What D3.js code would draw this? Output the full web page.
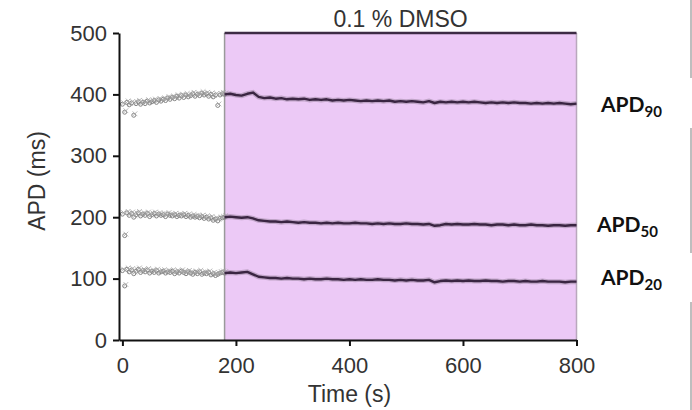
<!DOCTYPE html>
<html>
<head>
<meta charset="utf-8">
<script src="https://cdn.jsdelivr.net/npm/d3@7"></script>
<style>
  html, body { margin: 0; padding: 0; background: #ffffff; }
  svg { display: block; }
  .axis text { font-family: Arial, "Liberation Sans", sans-serif; font-size: 22px; fill: #333; }
  .axis path, .axis line { stroke: #111; stroke-width: 2; }
</style>
</head>
<body>
<svg id="chart" width="692" height="410"></svg>
<script>
// Time axis settings
const xTicks = [0, 200, 400, 600, 800];
const yTicks = [0, 100, 200, 300, 400, 500];
const dmsoStart = 180;
const dmsoEnd = 800;

// Baseline recording (scatter), sampled every 4 s from 0 to 180 s
const preTime = d3.range(0, 181, 4);
const apd90Pre = [384, 371, 387, 383, 386, 366, 385, 388, 384, 387, 385, 389, 386, 388, 390, 387,
  391, 389, 392, 390, 394, 392, 395, 393, 397, 394, 398, 395, 399, 396, 398, 401, 397, 400, 398,
  402, 399, 401, 397, 400, 396, 399, 382, 399, 401, 400];
const apd50Pre = [205, 170, 207, 203, 206, 200, 204, 207, 202, 205, 203, 206, 201, 204, 206, 202,
  205, 203, 204, 201, 205, 203, 202, 204, 201, 203, 202, 204, 201, 203, 200, 202, 200, 201, 199,
  201, 198, 200, 197, 199, 195, 197, 194, 198, 199, 200];
const apd20Pre = [113, 88, 115, 111, 114, 108, 112, 115, 110, 113, 111, 114, 109, 112, 110, 113,
  109, 111, 112, 109, 111, 110, 112, 108, 111, 109, 112, 110, 108, 111, 109, 107, 110, 108, 111,
  107, 109, 108, 110, 106, 108, 105, 107, 109, 110, 109];

// Recording under 0.1 % DMSO, sampled every 10 s from 180 to 800 s
const postTime = d3.range(180, 801, 10);
const apd90Post = [400, 401, 399, 398, 401, 403, 396, 394, 395, 393, 394, 392, 393, 392, 393, 391,
  392, 391, 392, 390, 391, 390, 391, 390, 389, 390, 389, 390, 389, 390, 388, 389, 388, 389, 388,
  387, 389, 386, 388, 387, 388, 387, 388, 387, 388, 387, 386, 387, 386, 387, 386, 387, 386, 386,
  385, 386, 385, 386, 385, 386, 385, 384, 385];
const apd50Post = [200, 201, 200, 199, 200, 198, 195, 194, 193, 193, 192, 193, 192, 191, 192, 191,
  191, 190, 191, 190, 191, 190, 190, 191, 190, 190, 189, 190, 189, 190, 189, 189, 190, 189, 189,
  188, 189, 186, 187, 189, 188, 189, 188, 188, 189, 188, 188, 187, 188, 188, 187, 188, 187, 187,
  188, 187, 187, 186, 187, 187, 186, 187, 187];
const apd20Post = [109, 110, 109, 110, 111, 107, 103, 102, 101, 101, 100, 101, 100, 100, 99, 100,
  99, 99, 100, 99, 99, 98, 99, 98, 99, 98, 98, 99, 98, 98, 97, 98, 97, 98, 97, 97, 98, 94, 96, 97,
  96, 97, 96, 97, 96, 96, 97, 96, 96, 95, 96, 96, 95, 96, 95, 95, 96, 95, 95, 95, 94, 95, 95];

const seriesNames = ["APD", "APD", "APD"];
const seriesSubs = ["90", "50", "20"];
const preSeries = [apd90Pre, apd50Pre, apd20Pre];
const postSeries = [apd90Post, apd50Post, apd20Post];

const svg = d3.select("#chart");

const x = d3.scaleLinear().domain([-6, 800]).range([119, 576.5]);
const y = d3.scaleLinear().domain([0, 500]).range([340, 33]);

// Treatment window
svg.append("rect")
  .attr("x", x(dmsoStart)).attr("y", y(500))
  .attr("width", x(dmsoEnd) - x(dmsoStart)).attr("height", y(0) - y(500))
  .attr("fill", "#ecc9f6");
svg.append("line")
  .attr("x1", x(dmsoStart)).attr("x2", x(dmsoStart))
  .attr("y1", y(500)).attr("y2", y(0))
  .attr("stroke", "#9a9a9a").attr("stroke-width", 1.5);
svg.append("line")
  .attr("x1", x(dmsoEnd)).attr("x2", x(dmsoEnd))
  .attr("y1", y(500)).attr("y2", y(0))
  .attr("stroke", "#b9a8bd").attr("stroke-width", 1.5);
svg.append("line")
  .attr("x1", x(dmsoStart)).attr("x2", x(dmsoEnd))
  .attr("y1", y(500)).attr("y2", y(500))
  .attr("stroke", "#3d2b45").attr("stroke-width", 2.5);

svg.append("text")
  .attr("x", (x(dmsoStart) + x(dmsoEnd)) / 2)
  .attr("y", 27)
  .attr("text-anchor", "middle")
  .style("font-family", "Arial, 'Liberation Sans', sans-serif")
  .style("font-size", "23px")
  .style("fill", "#333")
  .text("0.1 % DMSO");

// Baseline scatter: overlapping open markers and small crosses
const cross = d3.symbol().type(d3.symbolTimes).size(16);
preSeries.forEach(vals => {
  const g = svg.append("g");
  g.selectAll("circle")
    .data(vals)
    .join("circle")
    .attr("cx", (d, i) => x(preTime[i]))
    .attr("cy", d => y(d))
    .attr("r", 2)
    .attr("fill", "none")
    .attr("stroke", "#858585")
    .attr("stroke-width", 1);
  g.selectAll("path")
    .data(vals)
    .join("path")
    .attr("d", cross)
    .attr("transform", (d, i) => `translate(${x(preTime[i]) + 1.2},${y(d) - 1.5})`)
    .attr("fill", "none")
    .attr("stroke", "#a5a5a5")
    .attr("stroke-width", 0.8);
});

// DMSO traces
const line = d3.line()
  .x((d, i) => x(postTime[i]))
  .y(d => y(d));
postSeries.forEach(vals => {
  svg.append("path").datum(vals)
    .attr("d", line)
    .attr("fill", "none")
    .attr("stroke", "#9c86a3")
    .attr("stroke-opacity", 0.55)
    .attr("stroke-width", 5);
  svg.append("path").datum(vals)
    .attr("d", line)
    .attr("fill", "none")
    .attr("stroke", "#3a2542")
    .attr("stroke-width", 2.4)
    .attr("stroke-linejoin", "round");
});

// Axes
svg.append("g")
  .attr("class", "axis")
  .attr("transform", `translate(0,${y(0)})`)
  .call(d3.axisBottom(x).tickValues(xTicks).tickSize(6).tickSizeOuter(0).tickPadding(11));
svg.append("g")
  .attr("class", "axis")
  .attr("transform", `translate(${x(-6)},0)`)
  .call(d3.axisLeft(y).tickValues(yTicks).tickSize(6).tickSizeOuter(0).tickPadding(6));

svg.append("text")
  .attr("x", x(400))
  .attr("y", 402)
  .attr("text-anchor", "middle")
  .style("font-family", "Arial, 'Liberation Sans', sans-serif")
  .style("font-size", "23px")
  .style("fill", "#333")
  .text("Time (s)");

svg.append("text")
  .attr("transform", "translate(45,181) rotate(-90)")
  .attr("text-anchor", "middle")
  .style("font-family", "Arial, 'Liberation Sans', sans-serif")
  .style("font-size", "23px")
  .style("fill", "#333")
  .text("APD (ms)");

// Right-hand panel divider, interrupted by the label boxes
svg.append("line")
  .attr("x1", 691).attr("x2", 691).attr("y1", 0).attr("y2", 410)
  .attr("stroke", "#a8a8a8").attr("stroke-width", 1.5);

const labelBoxes = [
  { x: 578, y: 78, w: 114, h: 50, tx: 601, ty: 112 },
  { x: 578, y: 198, w: 111, h: 52, tx: 597, ty: 232 },
  { x: 578, y: 253, w: 114, h: 49, tx: 601, ty: 285 }
];
labelBoxes.forEach((b, i) => {
  svg.append("rect")
    .attr("x", b.x).attr("y", b.y).attr("width", b.w).attr("height", b.h)
    .attr("fill", "#ffffff");
  const t = svg.append("text")
    .attr("x", b.tx).attr("y", b.ty)
    .style("font-family", "Lato, 'Open Sans', sans-serif")
    .style("font-weight", 700)
    .style("font-size", "21px")
    .style("fill", "#111");
  t.append("tspan").text(seriesNames[i]);
  t.append("tspan").attr("dy", 5).style("font-size", "15px").text(seriesSubs[i]);
});
</script>
</body>
</html>
